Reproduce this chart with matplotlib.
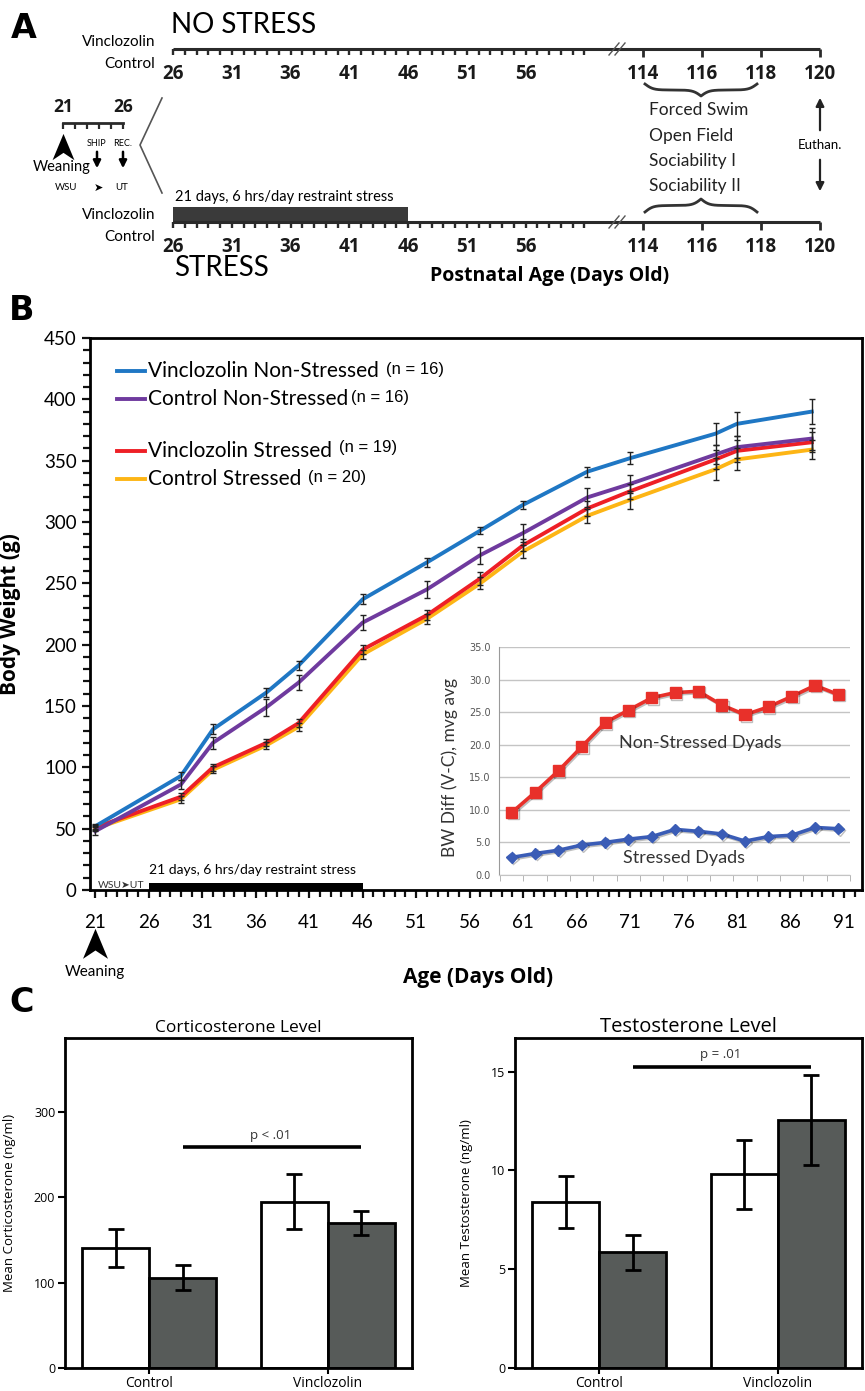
import numpy as np
import matplotlib
matplotlib.use('Agg')
import matplotlib.pyplot as plt
from matplotlib.path import Path
import matplotlib.patheffects as pe

# ---------------- data ----------------
# panel A timeline
a_days_early = np.arange(26, 62)
a_labels_early = [26, 31, 36, 41, 46, 51, 56]
a_days_late = [114, 116, 118, 120]
stress_days = np.array([26, 46])
mini_days = np.arange(21, 27)
mini_labels = [21, 26]
tests = ['Forced Swim', 'Open Field', 'Sociability I', 'Sociability II']

# panel B body weight
days = [21, 29, 32, 37, 40, 46, 52, 57, 61, 67, 71, 79, 81, 88]
vin_ns = [52, 93, 131, 161, 183, 237, 267, 293, 314, 341, 352, 372, 380, 390]
vin_ns_err = [2, 3, 4, 4, 4, 4, 4, 3, 3, 4, 5, 9, 9.5, 10]
ctl_ns = [48, 86, 120, 149, 169, 218, 245, 273, 291, 320, 331, 355, 361, 368]
ctl_ns_err = [3, 4, 5, 7, 6, 6, 7, 7, 7, 8, 7, 8, 9, 9]
vin_s = [51, 76, 100, 120, 136, 196, 224, 254, 281, 311, 325, 351, 358, 365]
vin_s_err = [2, 3, 3, 3, 3, 4, 4, 5, 5, 6, 6, 8, 9, 8]
ctl_s = [50, 74, 98, 118, 133, 192, 221, 250, 276, 305, 318, 343, 351, 359]
ctl_s_err = [2, 3, 3, 3, 3, 4, 4, 5, 5, 6, 7, 9, 9, 8]
groups = ['Vinclozolin Non-Stressed', 'Control Non-Stressed',
          'Vinclozolin Stressed', 'Control Stressed']
group_n = [16, 16, 19, 20]
group_colors = ['#1f77c4', '#6f3a9e', '#ee1f26', '#fdb515']

# inset
dyad_idx = np.arange(15)
non_stressed_diff = [9.6, 12.7, 16.0, 19.7, 23.4, 25.3, 27.2, 28.0, 28.2,
                     26.1, 24.6, 25.8, 27.4, 29.1, 27.7]
stressed_diff = [2.7, 3.3, 3.8, 4.6, 5.0, 5.5, 5.9, 7.0, 6.7,
                 6.3, 5.2, 5.9, 6.1, 7.3, 7.1]

# panel C
treatments = ['Control', 'Vinclozolin']
cort_ns = [141, 195]
cort_ns_err = [22, 32]
cort_s = [106, 170]
cort_s_err = [15, 14]
testo_ns = [8.4, 9.8]
testo_ns_err = [1.3, 1.75]
testo_s = [5.85, 12.55]
testo_s_err = [0.9, 2.3]

GILL = ['Lato', 'DejaVu Sans']
CAL = ['Open Sans', 'DejaVu Sans']
W, H = 865, 1391
fig = plt.figure(figsize=(W / 100, H / 100), dpi=100)


def fx(px):
    return px / W


def fy(py):
    return 1 - py / H


# ---------------- panel A ----------------
axA = fig.add_axes([0, fy(300), 1, 300 / H])
axA.set_xlim(0, W)
axA.set_ylim(300, 0)
axA.axis('off')


def day_x(d):
    return np.interp(d, [26, 62, 114, 120], [173, 596, 643, 820])


def brace(ax, x0, x1, y0, depth, b=14):
    u = np.linspace(0, 1, 150)
    yh = 1 / (1 + np.exp(-b * u)) + 1 / (1 + np.exp(-b * (u - 1))) - 0.5
    xs = np.concatenate([x0 + u * (x1 - x0) / 2, x1 - u[::-1] * (x1 - x0) / 2])
    ys = np.concatenate([yh, yh[::-1]])
    ax.plot(xs, y0 + depth * ys, color='#333', lw=2)


for y0 in (49, 222):
    axA.plot([day_x(26), day_x(120)], [y0, y0], color='#2a2a2a', lw=2.2,
             solid_capstyle='butt')
    axA.vlines(day_x(a_days_early), y0, y0 + 6, color='#2a2a2a', lw=1.7)
    axA.vlines(day_x(a_days_late), y0, y0 + 8, color='#2a2a2a', lw=2)
    for d in a_labels_early + a_days_late:
        axA.text(day_x(d), y0 + 25, str(d), ha='center', va='center',
                 fontsize=13.5, fontweight='bold', family=CAL, color='#1a1a1a')
    for off in (-3, 3):
        axA.plot([617 + off - 5, 617 + off + 5], [y0 + 6, y0 - 6],
                 color='#555', lw=1)
    axA.text(155, y0 - 7, 'Vinclozolin', ha='right', va='center',
             fontsize=11, family=GILL)
    axA.text(155, y0 + 15, 'Control', ha='right', va='center',
             fontsize=11, family=GILL)

axA.fill_between(day_x(stress_days), 207, 222, color='#3a3a3a', lw=0)
axA.text(175, 197, '21 days, 6 hrs/day restraint stress', ha='left',
         va='center', fontsize=10.5, family=GILL)
axA.text(171, 25, 'NO STRESS', ha='left', va='center', fontsize=20, family=GILL)
axA.text(174, 268, 'STRESS', ha='left', va='center', fontsize=20, family=GILL)
axA.text(430, 276, 'Postnatal Age (Days Old)', ha='left', va='center',
         fontsize=14, fontweight='bold', family=CAL)

for i, t in enumerate(tests):
    axA.text(649, 110 + i * 25.5, t, ha='left', va='center', fontsize=12.5,
             family=GILL, color='#222')
brace(axA, day_x(114) + 2, day_x(118) - 4, 84, 12)
brace(axA, day_x(114) + 2, day_x(118) - 4, 212, -13)

axA.annotate('', xy=(820, 95), xytext=(820, 133),
             arrowprops=dict(arrowstyle='-|>', color='#222', lw=1.6,
                             mutation_scale=12))
axA.annotate('', xy=(820, 194), xytext=(820, 157),
             arrowprops=dict(arrowstyle='-|>', color='#222', lw=1.6,
                             mutation_scale=12))
axA.text(820, 145, 'Euthan.', ha='center', va='center', fontsize=9.5,
         family=GILL)


def mini_x(d):
    return 63 + (np.asarray(d) - 21) * 12


axA.plot([mini_x(21), mini_x(26)], [123, 123], color='#2a2a2a', lw=2)
axA.vlines(mini_x(mini_days), 123, 129, color='#2a2a2a', lw=1.6)
for d in mini_labels:
    axA.text(mini_x(d), 107, str(d), ha='center', va='center', fontsize=12.5,
             fontweight='bold', family=CAL, color='#1a1a1a')
chevron = Path([(0, 1), (-0.75, -0.8), (0, -0.3), (0.75, -0.8), (0, 1)])
axA.plot(mini_x(21), 148, marker=chevron, ms=21, color='black', mew=0)
axA.text(62, 167, 'Weaning', ha='center', va='center', fontsize=10.5,
         family=GILL)
for xx, lab in ((97, 'SHIP'), (123, 'REC.')):
    axA.text(xx, 143, lab, ha='center', va='center', fontsize=6.5, family=GILL)
    axA.annotate('', xy=(xx, 171), xytext=(xx, 149),
                 arrowprops=dict(arrowstyle='-|>', color='black', lw=1.8,
                                 mutation_scale=11))
axA.text(66, 188, 'WSU', ha='center', va='center', fontsize=7, family=GILL)
axA.text(98, 188, '\u27a4', ha='center', va='center', fontsize=8,
         family=['DejaVu Sans'])
axA.text(122, 188, 'UT', ha='center', va='center', fontsize=7, family=GILL)
axA.plot([162, 140, 162], [98, 145, 193], color='#555', lw=1.2)

# ---------------- panel B ----------------
axB = fig.add_axes([fx(90), fy(890), fx(862) - fx(90), (890 - 338) / H])
series = [(vin_ns, vin_ns_err), (ctl_ns, ctl_ns_err),
          (vin_s, vin_s_err), (ctl_s, ctl_s_err)]
for k in (3, 2, 1, 0):
    vals, err = series[k]
    axB.plot(days, vals, color=group_colors[k], lw=2.8, zorder=3 + (3 - k) * 0.1)
for k in range(4):
    vals, err = series[k]
    axB.errorbar(days, vals, yerr=err, fmt='none', ecolor='#222',
                 elinewidth=1, capsize=2.5, capthick=1, zorder=5)
axB.fill_between(stress_days, 0, 6, color='black', lw=0, zorder=4)
axB.text(26, 16, '21 days, 6 hrs/day restraint stress', ha='left',
         va='center', fontsize=10, family=GILL)
axB.text(21.2, 3.5, 'WSU\u27a4UT', ha='left', va='center', fontsize=7.5,
         family=GILL, color='#333')
axB.set_xlim(20.5, 92.7)
axB.set_ylim(0, 450)
axB.set_xticks(range(21, 92, 5))
axB.set_xticks(range(21, 93), minor=True)
axB.set_yticks(range(0, 451, 50))
axB.set_yticks(range(0, 451, 10), minor=True)
axB.tick_params(which='both', direction='out', width=1.6, length=6,
                labelsize=13.5, color='#111')
axB.tick_params(which='minor', length=5)
axB.tick_params(axis='x', pad=11)
for lab in axB.get_xticklabels() + axB.get_yticklabels():
    lab.set_family(GILL)
for s in axB.spines.values():
    s.set_linewidth(2)
axB.set_ylabel('Body Weight (g)', fontsize=15, fontweight='bold', family=CAL)
axB.yaxis.set_label_coords(-0.089, 0.5)
axB.set_xlabel('Age (Days Old)', fontsize=15, fontweight='bold', family=CAL)
axB.xaxis.set_label_coords(0.503, -0.14)
axB.plot(21, -0.1, marker=chevron, ms=24, color='black', mew=0,
         transform=axB.get_xaxis_transform(), clip_on=False)
axB.text(21, -0.148, 'Weaning', ha='center', va='center', fontsize=11,
         family=GILL, transform=axB.get_xaxis_transform())

leg_y = [0.94, 0.889, 0.796, 0.744]
for k in range(4):
    axB.plot([0.035, 0.0712], [leg_y[k], leg_y[k]], color=group_colors[k],
             lw=2.8, transform=axB.transAxes)
    t = axB.text(0.075, leg_y[k], groups[k], ha='left', va='center',
                 fontsize=15, family=GILL, transform=axB.transAxes)
    axB.annotate('(n = %d)' % group_n[k], xy=(1, 0.58 if k != 2 else 0.68),
                 xycoords=t, xytext=(5 if k != 1 else 2, 0),
                 textcoords='offset points', ha='left', va='center',
                 fontsize=12, family=['Liberation Sans'])

# inset
axI = fig.add_axes([fx(499), fy(875), fx(850) - fx(499), (875 - 647) / H])
shadow = [pe.SimpleLineShadow(offset=(1, -1), alpha=0.25), pe.Normal()]
axI.plot(dyad_idx, non_stressed_diff, color='#e8302a', lw=2.6, marker='s',
         ms=8, path_effects=shadow, zorder=3)
axI.plot(dyad_idx, stressed_diff, color='#3a5cb6', lw=2.6, marker='D',
         ms=5.5, path_effects=shadow, zorder=3)
axI.set_xlim(-0.55, 14.5)
axI.set_ylim(0, 35)
axI.set_yticks(np.arange(0, 36, 5))
axI.set_yticklabels(['%.1f' % v for v in np.arange(0, 36, 5)])
axI.set_xticks([])
axI.set_xticks(np.arange(-0.5, 15, 1), minor=True)
axI.tick_params(axis='y', length=0, labelsize=7, colors='#555', pad=6)
axI.tick_params(axis='x', which='minor', length=4, color='#aaa')
axI.grid(axis='y', color='#c4c4c4', lw=1)
axI.set_axisbelow(True)
for side in ('top', 'right'):
    axI.spines[side].set_visible(False)
axI.spines['left'].set_color('#9a9a9a')
axI.spines['bottom'].set_color('#c4c4c4')
axI.set_ylabel('BW Diff (V-C), mvg avg', fontsize=12.5, family=GILL,
               color='#333')
axI.yaxis.set_label_coords(-0.117, 0.47)
axI.text(8.1, 20.3, 'Non-Stressed Dyads', ha='center', va='center',
         fontsize=13, family=GILL, color='#333')
axI.text(7.4, 2.6, 'Stressed Dyads', ha='center', va='center',
         fontsize=13, family=GILL, color='#333')

# ---------------- panel C ----------------


def bar_panel(ax, ns, ns_err, s, s_err, top, ticks, sig_y, p_y, ptext,
              title, tsize, ylabel, lab_x):
    x = np.arange(len(treatments))
    w = 0.375
    ekw = dict(elinewidth=2, capthick=2, ecolor='black')
    ax.bar(x - w / 2, ns, w, yerr=ns_err, color='white', edgecolor='black',
           lw=2, capsize=6, error_kw=ekw)
    ax.bar(x + w / 2, s, w, yerr=s_err, color='#575b59', edgecolor='black',
           lw=2, capsize=6, error_kw=ekw)
    ax.plot([x[0] + w / 2, x[1] + w / 2], [sig_y, sig_y], color='black',
            lw=2.6, solid_capstyle='butt')
    ax.text(0.68, p_y, ptext, ha='center', va='center', fontsize=9.5,
            family=CAL, color='#333')
    ax.set_xlim(-0.47, 1.47)
    ax.set_ylim(0, top)
    ax.set_yticks(ticks)
    ax.set_xticks(x)
    ax.set_xticklabels(treatments)
    ax.tick_params(direction='out', width=1.5, length=5, labelsize=9,
                   pad=2)
    ax.tick_params(axis='x', labelsize=10, length=4)
    for lab in ax.get_xticklabels() + ax.get_yticklabels():
        lab.set_family(CAL)
    for sp in ax.spines.values():
        sp.set_linewidth(2)
    ax.set_title(title, fontsize=tsize, family=CAL, pad=4)
    ax.set_ylabel(ylabel, fontsize=9.5, family=CAL)
    ax.yaxis.set_label_coords(lab_x, 0.5)


box_b, box_h = fy(1368), (1368 - 1038) / H
axC1 = fig.add_axes([fx(65), box_b, fx(412) - fx(65), box_h])
bar_panel(axC1, cort_ns, cort_ns_err, cort_s, cort_s_err, 387,
          [0, 100, 200, 300], 259, 273, 'p < .01', 'Corticosterone Level',
          12.5, 'Mean Corticosterone (ng/ml)', -0.14)
axC2 = fig.add_axes([fx(515), box_b, fx(862) - fx(515), box_h])
bar_panel(axC2, testo_ns, testo_ns_err, testo_s, testo_s_err, 16.7,
          [0, 5, 10, 15], 15.25, 15.85, 'p = .01', 'Testosterone Level',
          14.5, 'Mean Testosterone (ng/ml)', -0.12)

# panel letters
for lab, px, py in (('A', 24, 28), ('B', 22, 311), ('C', 22, 1002)):
    fig.text(fx(px), fy(py), lab, ha='center', va='center', fontsize=24,
             fontweight='heavy', family=['DejaVu Sans'])

fig.savefig('out.png', dpi=100, facecolor='white')
